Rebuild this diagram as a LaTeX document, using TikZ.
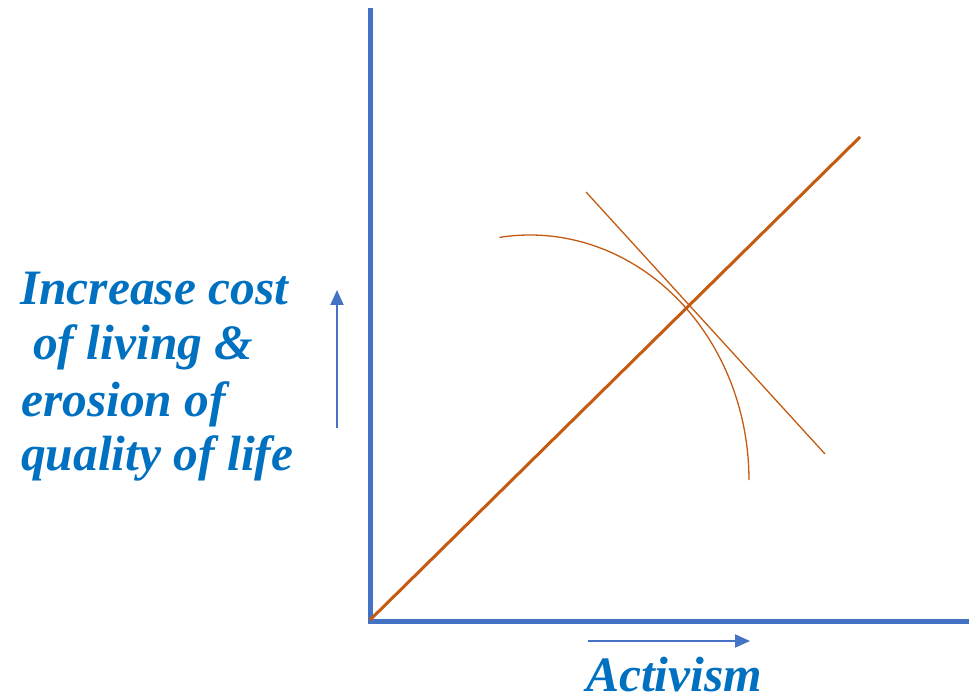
\documentclass[tikz,border=0pt]{standalone}
\usepackage{fontspec}
\setmainfont{Liberation Serif}
\usetikzlibrary{arrows.meta}
\definecolor{axisblue}{HTML}{4472C4}
\definecolor{curveorange}{HTML}{C55A11}
\definecolor{textblue}{HTML}{0070C0}
\tikzset{
  axisline/.style={draw=axisblue, line width=5pt},
  mainline/.style={draw=curveorange, line width=3pt},
  thinline/.style={draw=curveorange, line width=1.3pt},
  dirarrow/.style={draw=axisblue, line width=2pt, -{Triangle[length=15pt,width=13pt]}},
  lbl/.style={anchor=base west, inner sep=0pt, text=textblue, font=\fontsize{49.5}{58}\selectfont\bfseries\itshape}
}
\begin{document}
\begin{tikzpicture}[x=1pt,y=1pt]
\useasboundingbox (0,0) rectangle (969,696);
% axes
\coordinate (ytop) at (370,688);
\coordinate (orig) at (370,74);
\coordinate (xleft) at (367.5,74);
\coordinate (xright) at (975,74);
\draw[axisline] (orig) -- (ytop);
\draw[axisline] (xleft) -- (xright);
% diagonal
\coordinate (o2) at (370,76);
\coordinate (dend) at (860,559);
\draw[mainline] (o2) -- (dend);
% tangent
\coordinate (ta) at (586,504);
\coordinate (tb) at (825,242);
\draw[thinline] (ta) -- (tb);
% curve
\coordinate (cs) at (499.5,458.6);
\draw[thinline] (cs) arc[start angle=98, end angle=0, x radius=219pt, y radius=245pt];
% direction arrows
\coordinate (ua) at (337,268);
\coordinate (ub) at (337,406);
\draw[dirarrow] (ua) -- (ub);
\coordinate (ra) at (588,55);
\coordinate (rb) at (750,55);
\draw[dirarrow] (ra) -- (rb);
% labels
\node[lbl] (l1) at (20,391) {Increase cost};
\node[lbl] (l2) at (33,336) {of living \&};
\node[lbl] (l3) at (21,279) {erosion of};
\node[lbl] (l4) at (21,225) {quality of life};
\node[lbl] (lx) at (586,5) {Activism};
\end{tikzpicture}
\end{document}
